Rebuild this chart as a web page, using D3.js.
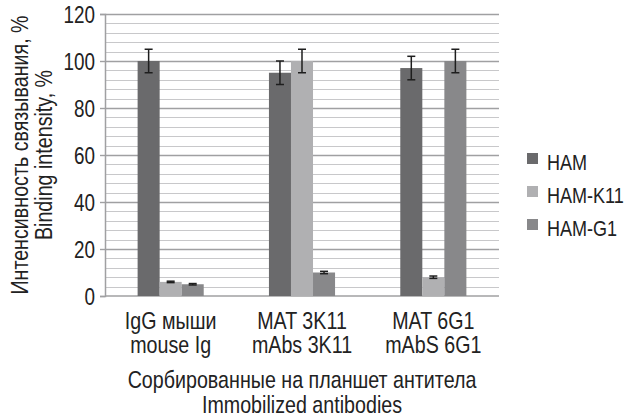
<!DOCTYPE html>
<html>
<head>
<meta charset="utf-8">
<script src="https://cdn.jsdelivr.net/npm/d3@7"></script>
<style>
  html, body { margin: 0; padding: 0; background: #fff; }
  svg text { font-family: "Liberation Sans", Arial, sans-serif; fill: #222; }
</style>
</head>
<body>
<svg id="chart" width="627" height="418"></svg>
<script>
// Categories (two-line labels: Russian / English)
const categories = ["IgG мыши|mouse Ig", "MAT 3K11|mAbs 3K11", "MAT 6G1|mAbS 6G1"];
const seriesNames = ["HAM", "HAM-K11", "HAM-G1"];
const seriesColors = ["#6a6a6c", "#b0b0b2", "#88888a"];

// Binding intensity, % (rows = categories, columns = series)
const hamValues = [100, 95, 97];
const hamK11Values = [6, 100, 8];
const hamG1Values = [5, 10, 100];

// Error half-widths, %
const hamErrors = [5, 5, 5];
const hamK11Errors = [0.3, 5, 0.5];
const hamG1Errors = [0.3, 0.5, 5];

const yTicks = [0, 20, 40, 60, 80, 100, 120];
const yLabelLines = ["Интенсивность связывания, %", "Binding intensity, %"];
const xLabelLines = ["Сорбированные на планшет антитела", "Immobilized antibodies"];

const values = [hamValues, hamK11Values, hamG1Values];
const errors = [hamErrors, hamK11Errors, hamG1Errors];

// Condensed lettering: glyphs are squeezed horizontally around their anchor
const NARROW = 0.82;

const svg = d3.select("#chart");
const margin = { left: 105, right: 128, top: 14, bottom: 122 };
const W = 627, H = 418;

const x = d3.scaleBand().domain(categories).range([margin.left, W - margin.right]).paddingInner(0).paddingOuter(0);
const xs = d3.scaleBand().domain(seriesNames).range([0, x.bandwidth()]).paddingInner(0).paddingOuter(1.48);
const y = d3.scaleLinear().domain([0, 120]).range([H - margin.bottom, margin.top]);

function label(parent, tx, ty, text, size, anchor, rot) {
  return parent.append("text")
    .attr("transform", `translate(${tx},${ty})${rot ? ` rotate(${rot})` : ""} scale(${NARROW},1)`)
    .attr("text-anchor", anchor || "middle")
    .style("font-size", size + "px")
    .text(text);
}

// Grid: minor lines every 4 units, major every 20
const minor = d3.range(4, 121, 4).filter(v => v % 20 !== 0);
svg.append("g").selectAll("line").data(minor).join("line")
  .attr("x1", margin.left).attr("x2", W - margin.right)
  .attr("y1", d => Math.round(y(d)) + 0.5).attr("y2", d => Math.round(y(d)) + 0.5)
  .attr("stroke", "#c8c8ca").attr("stroke-width", 1.2);
svg.append("g").selectAll("line").data(yTicks.filter(v => v > 0)).join("line")
  .attr("x1", margin.left).attr("x2", W - margin.right)
  .attr("y1", d => Math.round(y(d)) + 0.5).attr("y2", d => Math.round(y(d)) + 0.5)
  .attr("stroke", "#a0a0a2").attr("stroke-width", 1.4);

// Y axis
const yAxis = d3.axisLeft(y).tickValues(yTicks).tickSize(5);
const gy = svg.append("g").attr("transform", `translate(${margin.left},0)`).call(yAxis);
gy.select(".domain").attr("stroke", "#a0a0a2").attr("stroke-width", 1.5);
gy.selectAll(".tick line").attr("stroke", "#a0a0a2").attr("stroke-width", 1.4);
gy.selectAll(".tick text")
  .attr("x", null).attr("dy", "0.35em")
  .attr("transform", `translate(-10,0) scale(${NARROW},1)`)
  .style("font-size", "23px").attr("fill", "#222");

// Baseline
svg.append("line")
  .attr("x1", margin.left).attr("x2", W - margin.right)
  .attr("y1", y(0)).attr("y2", y(0))
  .attr("stroke", "#a0a0a2").attr("stroke-width", 1.5);

// Bars with error bars
const groups = svg.append("g").selectAll("g").data(categories).join("g")
  .attr("transform", d => `translate(${x(d)},0)`);
groups.each(function (cat, ci) {
  const g = d3.select(this);
  seriesNames.forEach((s, si) => {
    const v = values[si][ci];
    const e = errors[si][ci];
    const bx = xs(s);
    g.append("rect")
      .attr("x", bx).attr("width", xs.bandwidth())
      .attr("y", y(v)).attr("height", y(0) - y(v))
      .attr("fill", seriesColors[si]);
    const cx = bx + xs.bandwidth() / 2;
    const eg = g.append("g").attr("stroke", "#1e1e1e").attr("stroke-width", 1.5);
    eg.append("line").attr("x1", cx).attr("x2", cx).attr("y1", y(v + e)).attr("y2", y(v - e));
    eg.append("line").attr("x1", cx - 4).attr("x2", cx + 4).attr("y1", y(v + e)).attr("y2", y(v + e));
    eg.append("line").attr("x1", cx - 4).attr("x2", cx + 4).attr("y1", y(v - e)).attr("y2", y(v - e));
  });
});

// Category labels
const catG = svg.append("g");
categories.forEach(c => {
  c.split("|").forEach((line, i) => {
    label(catG, x(c) + x.bandwidth() / 2, 329 + i * 24, line, 24);
  });
});

// X axis title
const xtG = svg.append("g");
xLabelLines.forEach((line, i) => {
  label(xtG, (margin.left + W - margin.right) / 2, 388 + i * 25, line, 24);
});

// Y axis title
const ytG = svg.append("g");
yLabelLines.forEach((line, i) => {
  label(ytG, 28 + i * 24, 155, line, 24, "middle", -90);
});

// Legend
const legend = svg.append("g").selectAll("g").data(seriesNames).join("g")
  .attr("transform", (d, i) => `translate(527,${170 + i * 33})`);
legend.append("rect").attr("x", 0).attr("y", -17).attr("width", 11).attr("height", 11)
  .attr("fill", (d, i) => seriesColors[i]);
legend.each(function (d) { label(d3.select(this), 20, 0, d, 22, "start"); });
</script>
</body>
</html>
